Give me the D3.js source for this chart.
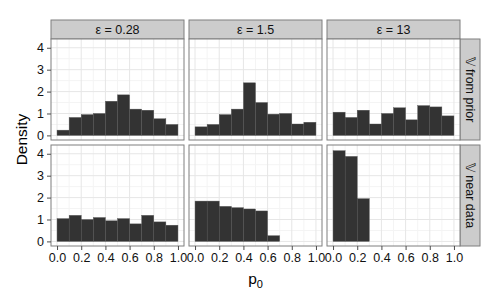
<!DOCTYPE html>
<html>
<head>
<meta charset="utf-8">
<script src="https://cdn.jsdelivr.net/npm/d3@7"></script>
<style>
  body { margin: 0; background: #fff; }
  text { font-family: "Liberation Sans", Arial, sans-serif; }
</style>
</head>
<body>
<script>
// facet labels
var colLabels = ["ε = 0.28", "ε = 1.5", "ε = 13"];
var rowLabels = ["𝕍 from prior", "𝕍 near data"];

// bin starts (binwidth 0.1)
var binStarts = [0.0, 0.1, 0.2, 0.3, 0.4, 0.5, 0.6, 0.7, 0.8, 0.9];

// densities per panel, row "from prior"
var priorEps028 = [0.24, 0.82, 0.95, 1.0, 1.56, 1.85, 1.2, 1.15, 0.76, 0.5];
var priorEps15  = [0.39, 0.5, 0.95, 1.2, 2.4, 1.5, 0.97, 1.0, 0.52, 0.6];
var priorEps13  = [1.06, 0.82, 1.15, 0.52, 1.0, 1.26, 0.71, 1.36, 1.3, 0.89];
// row "near data"
var nearEps028 = [1.04, 1.19, 1.0, 1.09, 0.94, 1.04, 0.8, 1.19, 0.89, 0.74];
var nearEps15  = [1.84, 1.84, 1.6, 1.54, 1.48, 1.39, 0.26, 0, 0, 0];
var nearEps13  = [4.14, 3.88, 1.95, 0, 0, 0, 0, 0, 0, 0];

var xTicks = [0, 0.2, 0.4, 0.6, 0.8, 1.0];
var yTicks = [0, 1, 2, 3, 4];

var panels = [
  [priorEps028, priorEps15, priorEps13],
  [nearEps028, nearEps15, nearEps13]
];

var W = 500, H = 300;
var svg = d3.select("body").append("svg")
  .attr("width", W).attr("height", H);

var colX = [51, 189, 327], panelW = 133;
var rowY = [39, 145], panelH = 101;
var stripH = 19, stripW = 20;

var x = d3.scaleLinear().domain([-0.05, 1.05]).range([0, panelW]);
var y = d3.scaleLinear().domain([-0.21, 4.4]).range([panelH, 0]);

// column strips
colLabels.forEach(function(lab, c) {
  var g = svg.append("g").attr("transform", "translate(" + colX[c] + "," + (rowY[0] - stripH) + ")");
  g.append("rect").attr("width", panelW).attr("height", stripH)
    .attr("fill", "#cccccc").attr("stroke", "#7f7f7f").attr("stroke-width", 1);
  g.append("text").attr("x", panelW / 2).attr("y", stripH / 2).attr("dy", "0.36em")
    .attr("text-anchor", "middle").attr("font-size", 12.5).attr("fill", "#111").text(lab);
});

// row strips
rowLabels.forEach(function(lab, r) {
  var g = svg.append("g").attr("transform", "translate(" + (colX[2] + panelW) + "," + rowY[r] + ")");
  g.append("rect").attr("width", stripW).attr("height", panelH)
    .attr("fill", "#cccccc").attr("stroke", "#7f7f7f").attr("stroke-width", 1);
  g.append("text").attr("transform", "translate(" + (stripW / 2) + "," + (panelH / 2) + ") rotate(90)")
    .attr("dy", "0.36em").attr("text-anchor", "middle").attr("font-size", 12.5)
    .attr("fill", "#111").text(lab);
});

panels.forEach(function(row, r) {
  row.forEach(function(vals, c) {
    var g = svg.append("g").attr("transform", "translate(" + colX[c] + "," + rowY[r] + ")");
    g.append("rect").attr("width", panelW).attr("height", panelH).attr("fill", "#fff");

    // minor grid
    d3.range(0.1, 1.0, 0.2).forEach(function(v) {
      g.append("line").attr("x1", x(v)).attr("x2", x(v)).attr("y1", 0).attr("y2", panelH)
        .attr("stroke", "#f4f4f4").attr("stroke-width", 1);
    });
    d3.range(0.5, 4.5, 1).forEach(function(v) {
      g.append("line").attr("y1", y(v)).attr("y2", y(v)).attr("x1", 0).attr("x2", panelW)
        .attr("stroke", "#f4f4f4").attr("stroke-width", 1);
    });
    // major grid
    xTicks.forEach(function(v) {
      g.append("line").attr("x1", x(v)).attr("x2", x(v)).attr("y1", 0).attr("y2", panelH)
        .attr("stroke", "#e6e6e6").attr("stroke-width", 1);
    });
    yTicks.forEach(function(v) {
      g.append("line").attr("y1", y(v)).attr("y2", y(v)).attr("x1", 0).attr("x2", panelW)
        .attr("stroke", "#e6e6e6").attr("stroke-width", 1);
    });

    // bars
    g.selectAll("rect.bar").data(binStarts.map(function(b, i) { return {b: b, v: vals[i]}; })
        .filter(function(d) { return d.v > 0; }))
      .enter().append("rect").attr("class", "bar")
      .attr("x", function(d) { return x(d.b); })
      .attr("width", function(d) { return x(d.b + 0.1) - x(d.b); })
      .attr("y", function(d) { return y(d.v); })
      .attr("height", function(d) { return y(0) - y(d.v); })
      .attr("fill", "#333333").attr("stroke", "#555").attr("stroke-width", 0.4);

    g.append("rect").attr("width", panelW).attr("height", panelH)
      .attr("fill", "none").attr("stroke", "#7f7f7f").attr("stroke-width", 1);

    // y axis on first column
    if (c === 0) {
      var ya = g.append("g").call(d3.axisLeft(y).tickValues(yTicks).tickSize(4).tickPadding(3).tickFormat(d3.format("d")));
      ya.select(".domain").remove();
      ya.selectAll("line").attr("stroke", "#4d4d4d");
      ya.selectAll("text").attr("font-size", 12.5).attr("fill", "#111")
        .style("font-family", "Liberation Sans, Arial, sans-serif");
    }
    // x axis on bottom row
    if (r === 1) {
      var xa = g.append("g").attr("transform", "translate(0," + panelH + ")")
        .call(d3.axisBottom(x).tickValues(xTicks).tickSize(4).tickPadding(3).tickFormat(d3.format(".1f")));
      xa.select(".domain").remove();
      xa.selectAll("line").attr("stroke", "#4d4d4d");
      xa.selectAll("text").attr("font-size", 12.5).attr("fill", "#111")
        .style("font-family", "Liberation Sans, Arial, sans-serif");
    }
  });
});

// axis titles
var plotMidY = (rowY[0] + rowY[1] + panelH) / 2;
svg.append("text").attr("transform", "translate(21," + (plotMidY - 3) + ") rotate(-90)")
  .attr("text-anchor", "middle").attr("dy", "0.36em").attr("font-size", 15.5).attr("fill", "#000")
  .text("Density");

var xt = svg.append("text").attr("x", (colX[0] + colX[2] + panelW) / 2).attr("y", 284)
  .attr("text-anchor", "middle").attr("font-size", 15.5).attr("fill", "#000");
xt.append("tspan").text("p");
xt.append("tspan").attr("font-size", 11).attr("dy", 4).text("0");
</script>
</body>
</html>
